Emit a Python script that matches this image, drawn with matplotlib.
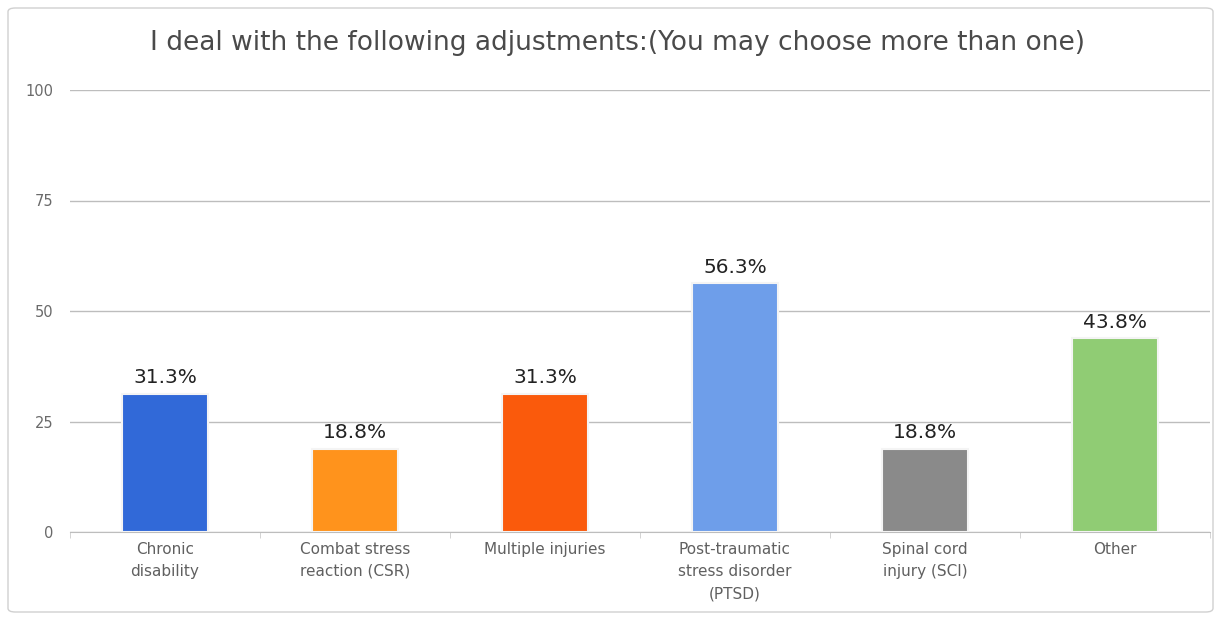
import matplotlib.pyplot as plt
from matplotlib.patches import FancyBboxPatch
import numpy as np

# data
categories = ["Chronic\ndisability", "Combat stress\nreaction (CSR)", "Multiple injuries",
              "Post-traumatic\nstress disorder\n(PTSD)", "Spinal cord\ninjury (SCI)", "Other"]
values = [31.3, 18.8, 31.3, 56.3, 18.8, 43.8]
bar_labels = ["31.3%", "18.8%", "31.3%", "56.3%", "18.8%", "43.8%"]
colors = ["#3169D8", "#FF931C", "#FA5A0C", "#6E9EEA", "#8A8A8A", "#90CC74"]
yticks = [0, 25, 50, 75, 100]

fig = plt.figure(figsize=(12.21, 6.2), dpi=100)

# outer rounded frame
frame = FancyBboxPatch((8 / 1221, 8 / 620), 1205 / 1221, 604 / 620,
                       boxstyle="round,pad=0,rounding_size=0.006",
                       transform=fig.transFigure, facecolor="white",
                       edgecolor="#d0d0d0", linewidth=1.0, zorder=-5)
fig.patches.append(frame)

ax = fig.add_axes([70 / 1221, 88 / 620, 1140 / 1221, 442 / 620])
ax.set_facecolor("none")
ax.set_zorder(2)

x = np.arange(len(categories))
bars = ax.bar(x, values, width=0.45, color=colors, edgecolor="#f4f4f4",
              linewidth=1.5, zorder=3)

for xi, v, lab in zip(x, values, bar_labels):
    ax.text(xi, v + 1.5, lab, ha="center", va="bottom", fontsize=14.5,
            color="#222222", zorder=4)

ax.set_xlim(-0.5, len(categories) - 0.5)
ax.set_ylim(0, 100)
ax.set_yticks(yticks)
ax.set_yticklabels([str(t) for t in yticks], fontsize=10.5, color="#6a6a6a")
ax.yaxis.grid(True, color="#bdbdbd", linewidth=1.0, zorder=0)
ax.tick_params(axis="y", length=0, pad=12)

ax.set_xticks(x)
ax.set_xticklabels(categories, fontsize=11, color="#606060", linespacing=1.6)
ax.tick_params(axis="x", length=0, pad=7)
ax.set_xticks(np.arange(len(categories) + 1) - 0.5, minor=True)
ax.tick_params(axis="x", which="minor", length=4, color="#cccccc")

for s in ["top", "right", "left"]:
    ax.spines[s].set_visible(False)
ax.spines["bottom"].set_color("#bdbdbd")

fig.text(618 / 1221, 1 - 43 / 620,
         "I deal with the following adjustments:(You may choose more than one)",
         ha="center", va="center", fontsize=19, color="#4a4a4a")

fig.savefig("out.png", dpi=100)
